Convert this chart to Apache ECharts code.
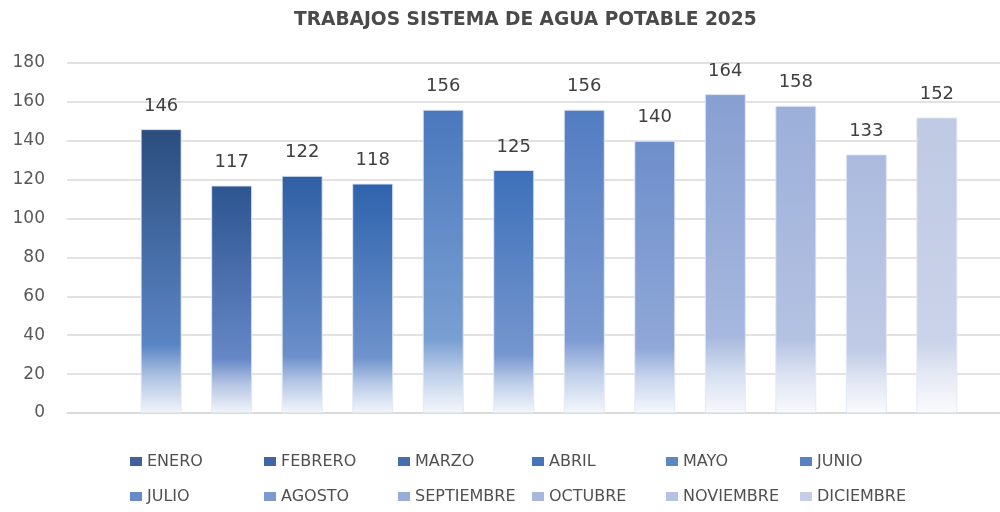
<!DOCTYPE html>
<html>
<head>
<meta charset="utf-8">
<title>Trabajos sistema de agua potable 2025</title>
<script src="https://cdn.jsdelivr.net/npm/echarts@6/dist/echarts.min.js"></script>
<style>
  html, body { margin: 0; padding: 0; background: #ffffff; }
  #chart-container { width: 1000px; height: 512px; }
</style>
</head>
<body>
<div id="chart-container"></div>
<script>
// meses (una serie por mes, como en el original)
var meses = ['ENERO', 'FEBRERO', 'MARZO', 'ABRIL', 'MAYO', 'JUNIO',
  'JULIO', 'AGOSTO', 'SEPTIEMBRE', 'OCTUBRE', 'NOVIEMBRE', 'DICIEMBRE'];
// trabajos realizados por mes
var trabajos = [146, 117, 122, 118, 156, 125, 156, 140, 164, 158, 133, 152];
var categoria = ['2025'];

// colores: parte alta y parte media de cada barra
var colorArriba = ['#2b4d7e', '#2d5590', '#2f5fa5', '#2e63ad', '#4a78bd', '#3d70ba',
  '#527dc2', '#6e8ecb', '#879fd1', '#9cafd9', '#abbade', '#bfc9e3'];
var colorMedio = ['#5a85c4', '#6587c6', '#6b8fca', '#6f93cc', '#7a9fd2', '#7596ce',
  '#7d9bd2', '#8fa8d8', '#a6b8de', '#b4c2e2', '#c0cbe6', '#cad3e9'];
// color del cuadrito de la leyenda
var colorLeyenda = ['#3f6298', '#3f66a4', '#4470b2', '#4574b9', '#5e88c5', '#5681c2',
  '#6789c8', '#7d99d0', '#97acd7', '#a8b8dd', '#b6c3e2', '#c5cee6'];

// mezcla un color con blanco (t = 0 color, t = 1 blanco)
function aclarar(hex, t) {
  var n = parseInt(hex.slice(1), 16);
  var r = (n >> 16) & 255, g = (n >> 8) & 255, b = n & 255;
  r = Math.round(r + (255 - r) * t);
  g = Math.round(g + (255 - g) * t);
  b = Math.round(b + (255 - b) * t);
  return 'rgb(' + r + ',' + g + ',' + b + ')';
}

var container = document.getElementById('chart-container');
var myChart = echarts.init(container);

var series = meses.map(function (mes, i) {
  return {
    name: mes,
    type: 'bar',
    barWidth: 41,
    barGap: '72%',
    data: [trabajos[i]],
    itemStyle: {
      borderColor: 'rgba(225,232,244,0.9)',
      borderWidth: 1,
      color: new echarts.graphic.LinearGradient(0, 0, 0, 1, [
        { offset: 0, color: colorArriba[i] },
        { offset: 0.76, color: colorMedio[i] },
        { offset: 0.87, color: aclarar(colorMedio[i], 0.5) },
        { offset: 1, color: aclarar(colorMedio[i], 0.92) }
      ])
    },
    label: {
      show: true,
      position: 'top',
      distance: 14,
      color: '#404040',
      fontFamily: 'DejaVu Sans',
      fontSize: 18
    }
  };
});

myChart.setOption({
  backgroundColor: '#ffffff',
  animation: false,
  title: {
    text: 'TRABAJOS SISTEMA DE AGUA POTABLE 2025',
    left: 294,
    top: 11,
    padding: 0,
    textStyle: {
      color: '#4a4a4a',
      fontFamily: 'DejaVu Sans',
      fontWeight: 'bold',
      fontSize: 18.6
    }
  },
  legend: {
    left: 130,
    top: 444,
    padding: 0,
    width: 812,
    itemGap: 0,
    itemWidth: 12,
    itemHeight: 9,
    icon: 'rect',
    data: meses.map(function (mes, i) {
      return { name: mes, itemStyle: { color: colorLeyenda[i], borderWidth: 0 } };
    }),
    textStyle: {
      color: '#505050',
      fontFamily: 'DejaVu Sans',
      fontSize: 16,
      width: 117,
      lineHeight: 35,
      padding: [0, 0, 0, 0]
    }
  },
  grid: {
    left: 67,
    width: 964,
    top: 63,
    bottom: 99,
    outerBoundsMode: 'none',
    containLabel: false
  },
  xAxis: {
    type: 'category',
    data: categoria,
    axisLine: { lineStyle: { color: '#d9d9d9', width: 1.5 } },
    axisTick: { show: false },
    axisLabel: { show: false }
  },
  yAxis: {
    type: 'value',
    min: 0,
    max: 180,
    interval: 20,
    axisLine: { show: false },
    axisTick: { show: false },
    axisLabel: {
      color: '#595959',
      fontFamily: 'DejaVu Sans',
      fontSize: 17,
      margin: 22
    },
    splitLine: { lineStyle: { color: '#d9d9d9', width: 1.5 } }
  },
  series: series
});
</script>
</body>
</html>
